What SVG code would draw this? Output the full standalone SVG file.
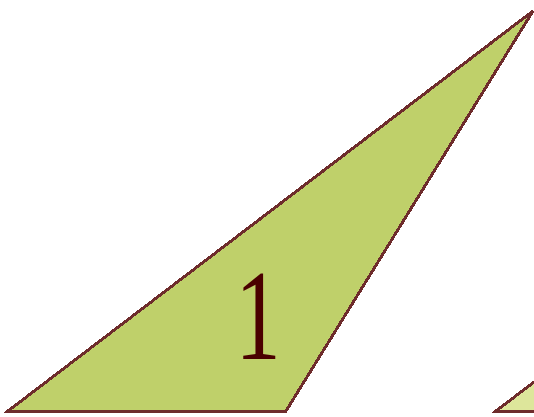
<svg xmlns="http://www.w3.org/2000/svg" width="534" height="417" viewBox="0 0 534 417">
<style>
.tri{stroke:#6E2C2C;stroke-width:3;shape-rendering:crispEdges;stroke-linejoin:miter}
.lbl{font-family:"Liberation Serif",serif;font-size:130px;fill:#4A0000;text-anchor:middle}
</style>
<rect width="534" height="417" fill="#FFFFFF"/>
<g id="triangle-1">
<polygon class="tri" points="8,411 286,411 533,11" fill="#BFD06A"/>
<text class="lbl" transform="translate(258,359) scale(0.7,1)" x="0" y="0">1</text>
</g>
<g id="triangle-2">
<polygon class="tri" points="496,411 774,411 1021,11" fill="#DDE69B"/>
</g>
</svg>
